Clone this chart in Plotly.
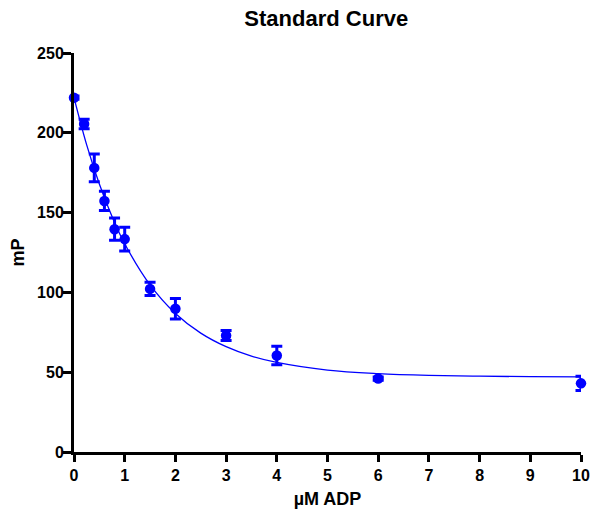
import plotly.graph_objects as go

# Measured points (µM ADP vs mP) with SEM
adp = [0, 0.2, 0.4, 0.6, 0.8, 1.0, 1.5, 2, 3, 4, 6, 10]
mp = [222, 205.5, 178, 157.3, 139.6, 133.4, 102.2, 89.8, 73, 60.5, 46, 43]
err = [1, 3, 8.7, 6, 7, 7.4, 4.2, 6.4, 3.2, 5.8, 1, 4.5]

# Fitted curve
curve_x = [0, 0.25, 0.5, 0.75, 1, 1.5, 2, 2.5, 3, 3.5, 4, 5, 6, 7, 8, 9, 10]
curve_y = [222, 192.4, 167.9, 147.5, 130.5, 104.7, 86.8, 74.5, 66.0, 60.1, 56.1, 51.3, 49.1, 48.0, 47.5, 47.2, 47.1]

x_ticks = [0, 1, 2, 3, 4, 5, 6, 7, 8, 9, 10]
y_ticks = [0, 50, 100, 150, 200, 250]

blue = "#0000FF"
font_family = "Liberation Sans, Arial, sans-serif"

fig = go.Figure()
fig.add_trace(go.Scatter(
    x=curve_x, y=curve_y, mode="lines", line=dict(color=blue, width=1.3, shape="spline"),
    cliponaxis=False, showlegend=False, hoverinfo="skip"))
fig.add_trace(go.Scatter(
    x=adp, y=mp, mode="markers",
    marker=dict(color=blue, size=10.5),
    error_y=dict(type="data", array=err, color=blue, thickness=3, width=5.5),
    cliponaxis=False, showlegend=False))

fig.update_layout(
    width=590, height=512,
    margin=dict(l=74, r=9, t=53, b=60),
    paper_bgcolor="white", plot_bgcolor="white",
    font=dict(family=font_family, color="black"),
    title=dict(text="Standard Curve", x=0.553, xanchor="center", y=0.965, yanchor="middle",
               font=dict(size=22, weight="bold", family=font_family)),
    xaxis=dict(range=[0, 10], tickvals=x_ticks, showgrid=False, zeroline=False,
               automargin=False,
               showline=True, linecolor="black", linewidth=3,
               ticks="outside", ticklen=7, tickwidth=3, tickcolor="black",
               tickfont=dict(size=16, weight="bold"),
               title=dict(text="µM ADP", font=dict(size=18, weight="bold"), standoff=10)),
    yaxis=dict(range=[0, 250], tickvals=y_ticks, showgrid=False, zeroline=False,
               automargin=False,
               showline=True, linecolor="black", linewidth=3,
               ticks="outside", ticklen=8, tickwidth=3, tickcolor="black",
               ticklabelstandoff=-4,
               tickfont=dict(size=16, weight="bold"),
               title=dict(text="mP", font=dict(size=18, weight="bold"), standoff=8)),
)

fig.write_html("out.html", config={"displayModeBar": False},
               post_script="document.body.style.margin='0';document.body.style.overflow='hidden';")
